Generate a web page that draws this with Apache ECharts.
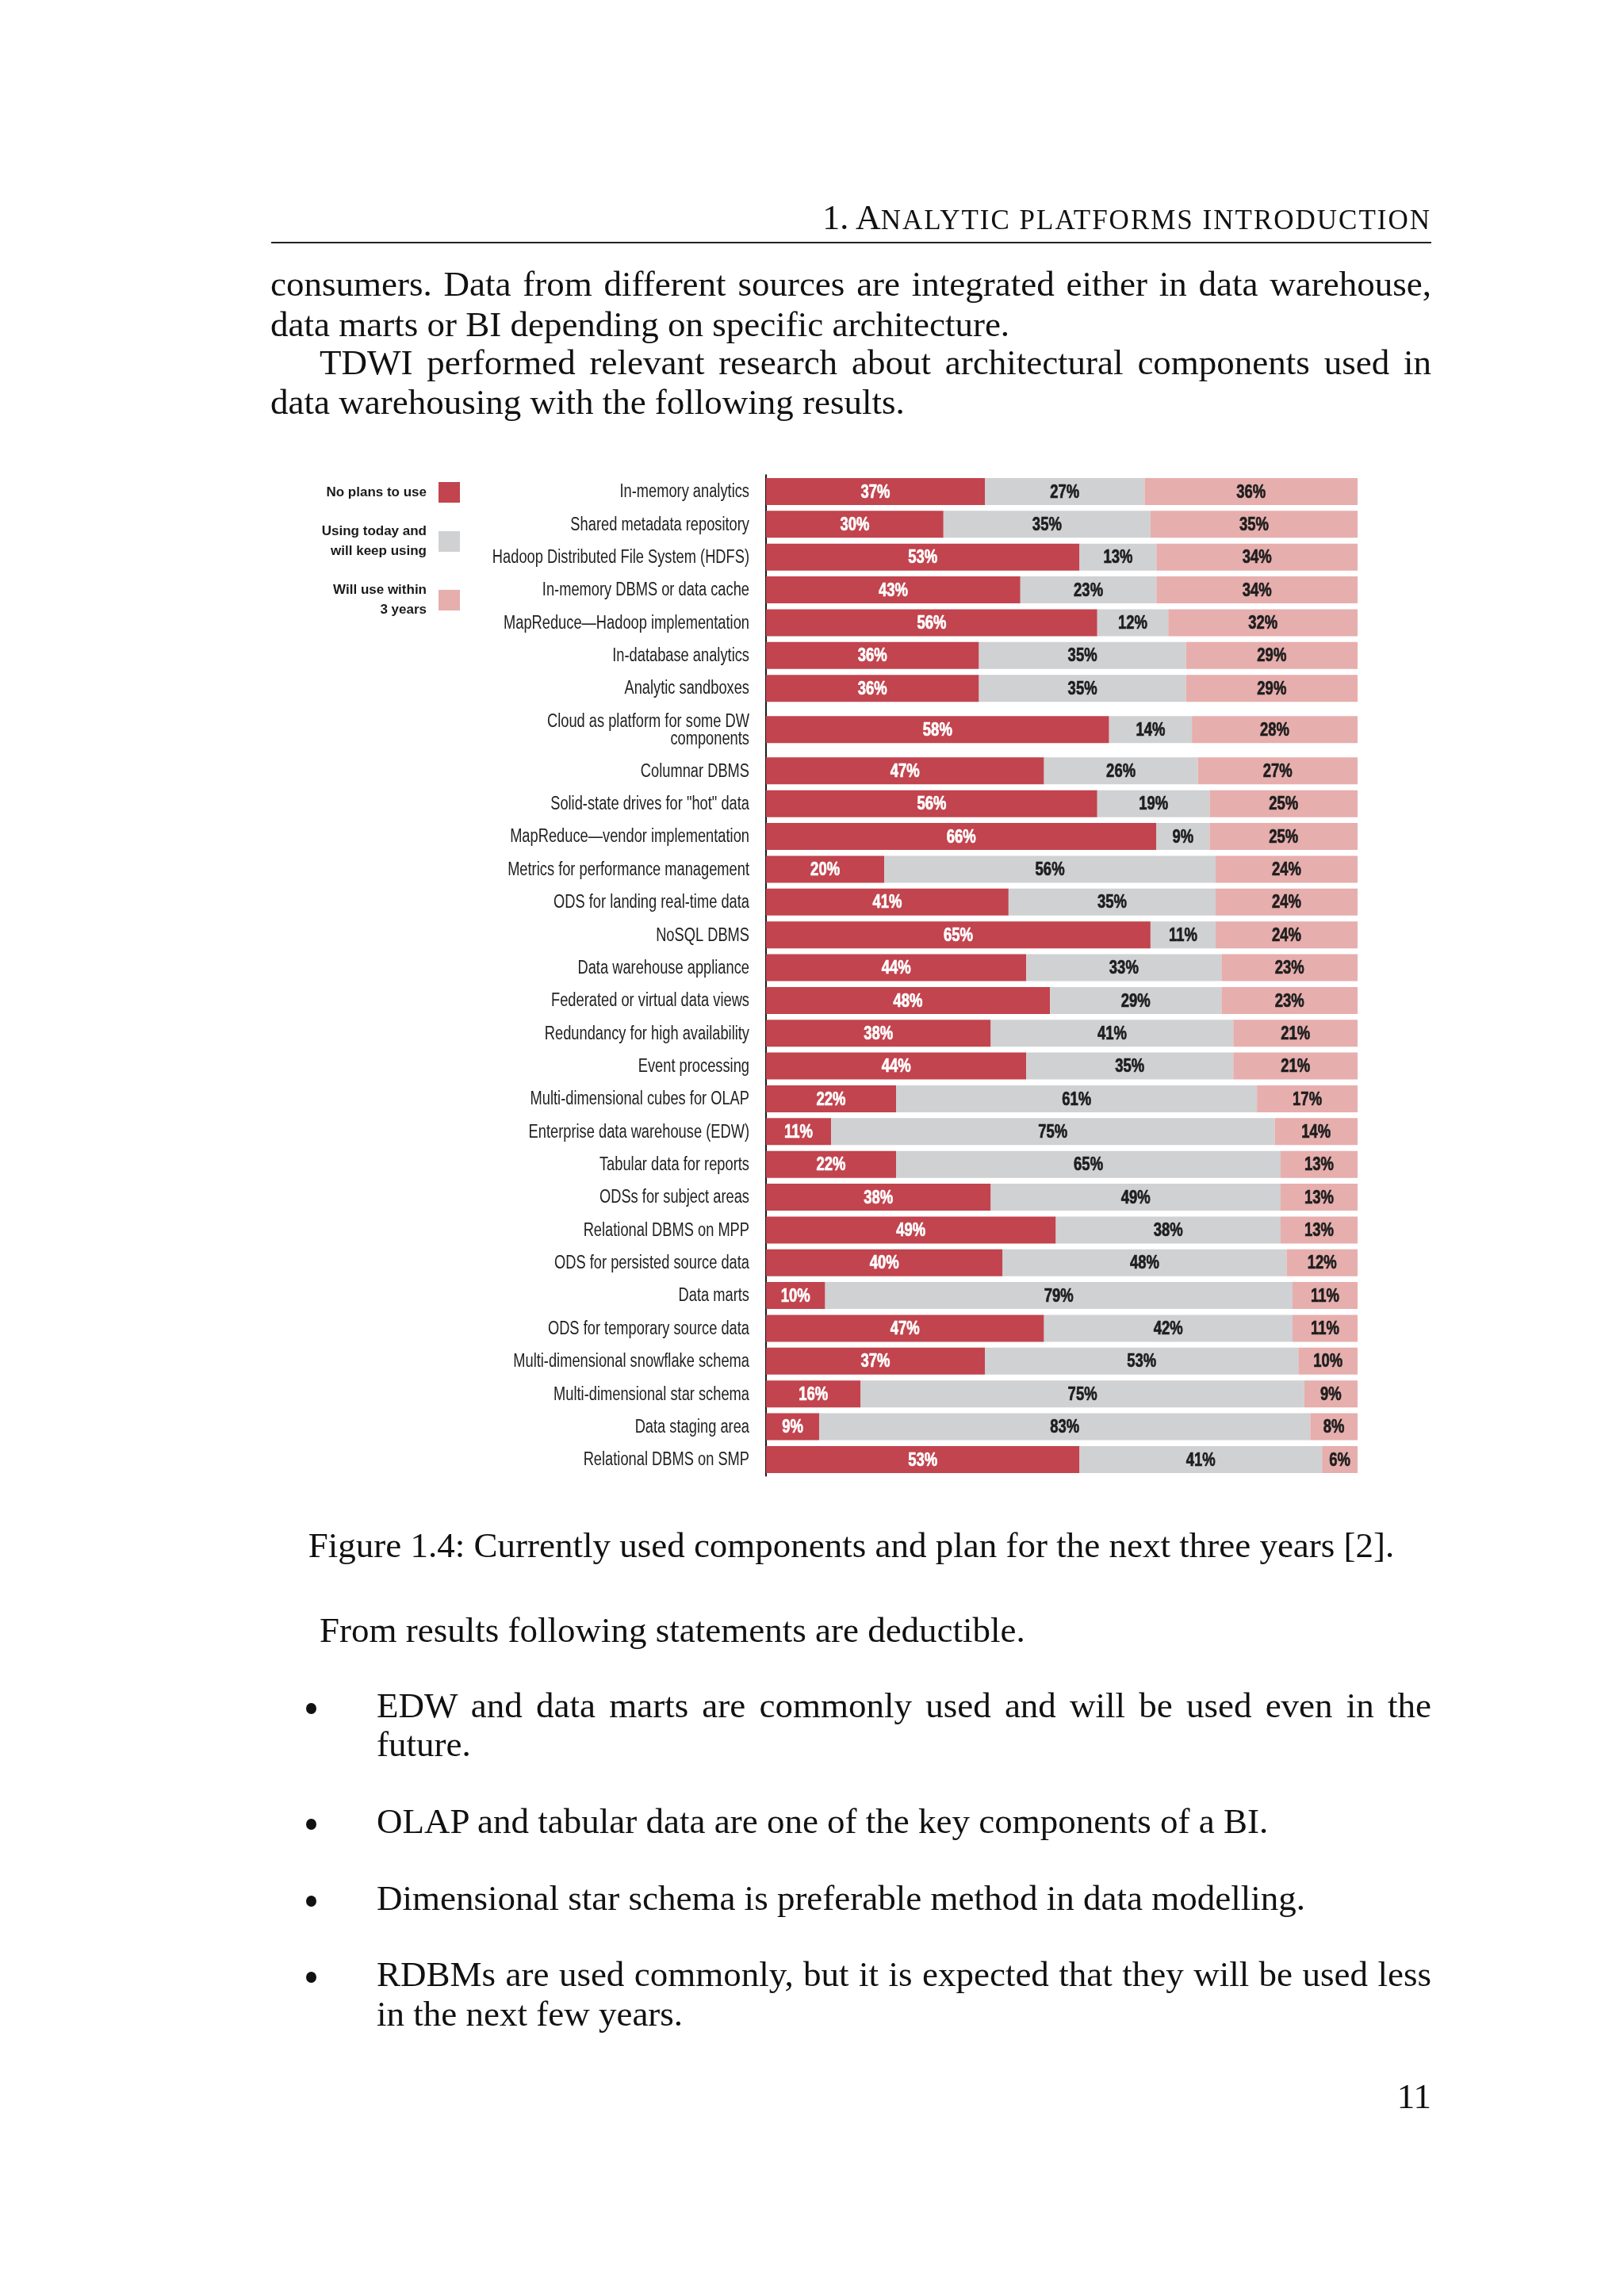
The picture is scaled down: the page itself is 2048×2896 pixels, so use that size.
<!DOCTYPE html>
<html>
<head>
<meta charset="utf-8">
<script src="https://cdn.jsdelivr.net/npm/echarts@6/dist/echarts.min.js"></script>
<style>
html,body{margin:0;padding:0;background:#fff;}
#page{position:relative;width:2048px;height:2896px;overflow:hidden;background:#fff;}
#chart{position:absolute;left:0;top:0;width:2048px;height:2896px;}
.t{position:absolute;font-family:"Liberation Serif","DejaVu Serif",serif;font-size:45px;line-height:45px;color:#111;white-space:nowrap;}
.j{text-align:justify;text-align-last:justify;white-space:normal;}
.sc{font-size:35px;letter-spacing:2px;}
.rule{position:absolute;left:342px;top:305px;width:1463px;height:2px;background:#222;}
.dot{position:absolute;width:13px;height:14px;border-radius:50%;background:#111;}
</style>
</head>
<body>
<div id="page">
  <div id="chart"></div>
  <div class="t" style="right:243px;top:253px;font-size:44px;line-height:44px;">1. A<span class="sc">NALYTIC PLATFORMS INTRODUCTION</span></div>
  <div class="rule"></div>
  <div class="t j" style="left:341px;width:1464px;top:336px;">consumers. Data from different sources are integrated either in data warehouse,</div>
  <div class="t" style="left:341px;top:387px;">data marts or BI depending on specific architecture.</div>
  <div class="t j" style="left:403px;width:1402px;top:435px;">TDWI performed relevant research about architectural components used in</div>
  <div class="t" style="left:341px;top:485px;">data warehousing with the following results.</div>
  <div class="t" style="left:342px;width:1463px;top:1927px;text-align:center;">Figure 1.4: Currently used components and plan for the next three years [2].</div>
  <div class="t" style="left:403px;top:2034px;">From results following statements are deductible.</div>
  <div class="dot" style="left:386px;top:2148px;"></div>
  <div class="t j" style="left:475px;width:1330px;top:2129px;">EDW and data marts are commonly used and will be used even in the</div>
  <div class="t" style="left:475px;top:2178px;">future.</div>
  <div class="dot" style="left:386px;top:2294px;"></div>
  <div class="t" style="left:475px;top:2275px;">OLAP and tabular data are one of the key components of a BI.</div>
  <div class="dot" style="left:386px;top:2391px;"></div>
  <div class="t" style="left:475px;top:2372px;">Dimensional star schema is preferable method in data modelling.</div>
  <div class="dot" style="left:386px;top:2487px;"></div>
  <div class="t j" style="left:475px;width:1330px;top:2468px;">RDBMs are used commonly, but it is expected that they will be used less</div>
  <div class="t" style="left:475px;top:2518px;">in the next few years.</div>
  <div class="t" style="right:243px;top:2622px;">11</div>
</div>
<script>
// ---- data ----
const categories = [
  'In-memory analytics',
  'Shared metadata repository',
  'Hadoop Distributed File System (HDFS)',
  'In-memory DBMS or data cache',
  'MapReduce\u2014Hadoop implementation',
  'In-database analytics',
  'Analytic sandboxes',
  'Cloud as platform for some DW components',
  'Columnar DBMS',
  'Solid-state drives for "hot" data',
  'MapReduce\u2014vendor implementation',
  'Metrics for performance management',
  'ODS for landing real-time data',
  'NoSQL DBMS',
  'Data warehouse appliance',
  'Federated or virtual data views',
  'Redundancy for high availability',
  'Event processing',
  'Multi-dimensional cubes for OLAP',
  'Enterprise data warehouse (EDW)',
  'Tabular data for reports',
  'ODSs for subject areas',
  'Relational DBMS on MPP',
  'ODS for persisted source data',
  'Data marts',
  'ODS for temporary source data',
  'Multi-dimensional snowflake schema',
  'Multi-dimensional star schema',
  'Data staging area',
  'Relational DBMS on SMP'
];
const noPlans    = [37,30,53,43,56,36,36,58,47,56,66,20,41,65,44,48,38,44,22,11,22,38,49,40,10,47,37,16,9,53];
const usingToday = [27,35,13,23,12,35,35,14,26,19,9,56,35,11,33,29,41,35,61,75,65,49,38,48,79,42,53,75,83,41];
const willUse    = [36,35,34,34,32,29,29,28,27,25,25,24,24,24,23,23,21,21,17,14,13,13,13,12,11,11,10,9,8,6];
const seriesNames = ['No plans to use', 'Using today and will keep using', 'Will use within 3 years'];
const legendLines = {
  'No plans to use': 'No plans to use',
  'Using today and will keep using': 'Using today and\nwill keep using',
  'Will use within 3 years': 'Will use within\n3 years'
};

// ---- styling / layout helpers ----
const F = '"Liberation Sans",Arial,"DejaVu Sans Condensed",sans-serif';
const colors = ['#C2444E', '#D0D1D3', '#E6AEAD'];
const textColors = ['#ffffff', '#1e1e1e', '#1e1e1e'];
// the two-line row gets a little extra room above and below
const rowPos = categories.map((c, i) => i + (i >= 7 ? 0.26 : 0) + (i >= 8 ? 0.26 : 0));
const lastPos = rowPos[rowPos.length - 1];

function displayLabel(c) {
  return c.replace(' components', '\ncomponents');
}

function segSeries(k, vals, startOf) {
  return {
    type: 'custom',
    name: seriesNames[k],
    silent: true,
    itemStyle: {color: colors[k]},
    encode: {x: [0, 1], y: 2},
    data: vals.map((v, i) => [startOf(i), startOf(i) + v, rowPos[i], v]),
    renderItem: function (params, api) {
      const p0 = api.coord([api.value(0), api.value(2)]);
      const p1 = api.coord([api.value(1), api.value(2)]);
      const h = api.size([0, 1])[1] * 0.822;
      return {
        type: 'group',
        children: [{
          type: 'rect',
          shape: {x: p0[0], y: p0[1] - h / 2, width: p1[0] - p0[0], height: h},
          style: {fill: colors[k]}
        }, {
          type: 'text',
          x: (p0[0] + p1[0]) / 2,
          y: p0[1] + 1,
          scaleX: 0.77,
          style: {
            text: api.value(3) + '%',
            fill: textColors[k],
            stroke: textColors[k],
            lineWidth: 0.7,
            fontSize: 24,
            fontWeight: 'bold',
            fontFamily: F,
            align: 'center',
            verticalAlign: 'middle'
          }
        }]
      };
    }
  };
}

const labelSeries = {
  type: 'custom',
  name: 'labels',
  silent: true,
  encode: {x: 0, y: 1},
  data: rowPos.map((p, i) => [0, p, i]),
  renderItem: function (params, api) {
    const p = api.coord([api.value(0), api.value(1)]);
    return {
      type: 'text',
      x: p[0] - 21,
      y: p[1] + 1,
      scaleX: 0.795,
      style: {
        text: displayLabel(categories[api.value(2)]),
        fill: '#222',
        fontSize: 23,
        fontFamily: F,
        lineHeight: 22,
        align: 'right',
        verticalAlign: 'middle'
      }
    };
  }
};

const chart = echarts.init(document.getElementById('chart'), null, {renderer: 'canvas'});
chart.setOption({
  animation: false,
  backgroundColor: 'transparent',
  legend: {
    orient: 'vertical',
    right: 1468,
    top: 608,
    padding: 0,
    align: 'right',
    icon: 'rect',
    itemWidth: 27,
    itemHeight: 26,
    itemGap: 24,
    selectedMode: false,
    data: seriesNames.map((n, k) => ({name: n, itemStyle: {color: colors[k]}})),
    formatter: n => legendLines[n],
    textStyle: {
      fontFamily: F,
      fontSize: 17,
      fontWeight: 'bold',
      color: '#1a1a1a',
      lineHeight: 25,
      padding: [0, 10, 0, 0]
    }
  },
  grid: {left: 966, top: 599.3, width: 746, height: 1262.3, containLabel: false},
  xAxis: {
    type: 'value', min: 0, max: 100,
    show: false
  },
  yAxis: {
    type: 'value',
    inverse: true,
    min: -0.5,
    max: lastPos + 0.5,
    offset: 10,
    splitLine: {show: false},
    axisTick: {show: false},
    axisLabel: {show: false},
    axisLine: {show: true, lineStyle: {color: '#1a1a1a', width: 2}}
  },
  series: [
    segSeries(0, noPlans, () => 0),
    segSeries(1, usingToday, i => noPlans[i]),
    segSeries(2, willUse, i => noPlans[i] + usingToday[i]),
    labelSeries
  ]
});
</script>
</body>
</html>
